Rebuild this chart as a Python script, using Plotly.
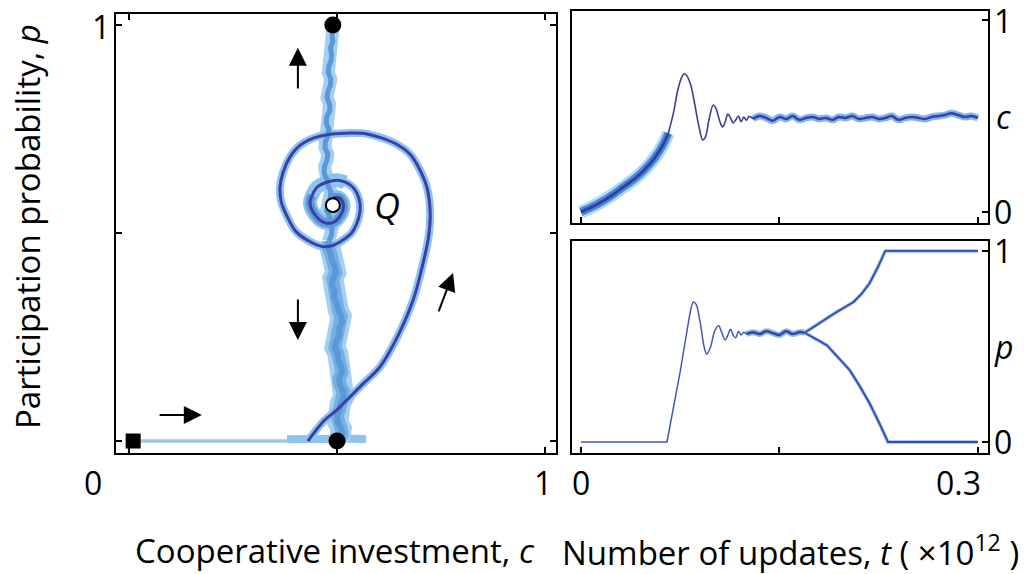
import plotly.graph_objects as go

# ---------------- data: left panel (c, p) phase plane ----------------
start_c = [0.01]
start_p = [0.0]
stable_c = [0.49, 0.50]
stable_p = [1.0, 0.0]
q_c = [0.49]
q_p = [0.567]

flat_c = [0.01, 0.10, 0.20, 0.30, 0.38, 0.43]
flat_p = [0.0, 0.0, 0.0, 0.0, 0.0, 0.0]

blob_c = [0.38, 0.42, 0.47, 0.52, 0.57]
blob_p = [0.004, 0.006, 0.005, 0.006, 0.004]

spiral_c = [0.43, 0.445, 0.47, 0.50, 0.524, 0.56, 0.603, 0.64, 0.683, 0.705, 0.72,
            0.724, 0.716, 0.695, 0.675, 0.64, 0.603, 0.56, 0.524, 0.48, 0.443, 0.41,
            0.387, 0.37, 0.363, 0.366, 0.38, 0.40, 0.428, 0.466, 0.49, 0.514, 0.535,
            0.548, 0.555, 0.555, 0.548, 0.538, 0.52, 0.50, 0.475, 0.452, 0.44, 0.435,
            0.45, 0.47, 0.49, 0.51, 0.515, 0.505, 0.49]
spiral_p = [0.0, 0.02, 0.05, 0.075, 0.099, 0.135, 0.178, 0.24, 0.339, 0.42, 0.49,
            0.548, 0.61, 0.66, 0.69, 0.715, 0.73, 0.74, 0.74, 0.737, 0.728, 0.71,
            0.683, 0.645, 0.61, 0.575, 0.54, 0.505, 0.483, 0.467, 0.47, 0.483, 0.50,
            0.524, 0.55, 0.572, 0.595, 0.61, 0.622, 0.627, 0.622, 0.61, 0.59, 0.572,
            0.54, 0.525, 0.525, 0.545, 0.57, 0.585, 0.585]

vert_p = [0.00, 0.015, 0.03, 0.045, 0.06, 0.075, 0.09, 0.105, 0.12, 0.135,
          0.15, 0.165, 0.18, 0.195, 0.21, 0.225, 0.24, 0.255, 0.27, 0.285,
          0.30, 0.315, 0.33, 0.345, 0.36, 0.375, 0.39, 0.405, 0.42, 0.435,
          0.45, 0.465, 0.48, 0.495, 0.51, 0.525, 0.54, 0.555, 0.57, 0.585,
          0.60, 0.615, 0.63, 0.645, 0.66, 0.675, 0.69, 0.705, 0.72, 0.735,
          0.75, 0.765, 0.78, 0.795, 0.81, 0.825, 0.84, 0.855, 0.87, 0.885,
          0.90, 0.915, 0.93, 0.945, 0.96, 0.975, 0.99]
vert_c = [0.505, 0.512, 0.51, 0.502, 0.50, 0.506, 0.508, 0.516, 0.515, 0.507,
          0.505, 0.512, 0.51, 0.503, 0.502, 0.495, 0.498, 0.506, 0.505, 0.512,
          0.51, 0.503, 0.50, 0.492, 0.495, 0.488, 0.49, 0.497, 0.495, 0.487,
          0.485, 0.479, 0.48, 0.487, 0.488, 0.481, 0.482, 0.475, 0.478, 0.484,
          0.485, 0.478, 0.475, 0.469, 0.47, 0.476, 0.478, 0.471, 0.472, 0.479,
          0.48, 0.474, 0.476, 0.483, 0.482, 0.476, 0.478, 0.484, 0.485, 0.479,
          0.48, 0.486, 0.487, 0.484, 0.49, 0.488, 0.49]

# ---------------- data: top right panel c(t) ----------------
c_early_t = [0.0, 0.008, 0.016, 0.024, 0.032, 0.040, 0.048, 0.056, 0.062, 0.066]
c_early = [0.0, 0.025, 0.055, 0.09, 0.13, 0.17, 0.22, 0.285, 0.35, 0.41]

c_osc_t = [0.066, 0.070, 0.073, 0.076, 0.078, 0.080, 0.083, 0.086, 0.089, 0.092, 0.094,
           0.097, 0.100, 0.102, 0.105, 0.107, 0.109, 0.111, 0.113, 0.115, 0.117, 0.119,
           0.121, 0.123, 0.125, 0.127, 0.130]
c_osc = [0.41, 0.52, 0.63, 0.70, 0.72, 0.71, 0.66, 0.56, 0.45, 0.375, 0.39,
         0.49, 0.557, 0.54, 0.47, 0.443, 0.47, 0.51, 0.49, 0.464, 0.48, 0.50,
         0.47, 0.495, 0.478, 0.498, 0.485]

c_set_t = [0.130, 0.135, 0.140, 0.145, 0.150, 0.155, 0.160, 0.165, 0.170, 0.175, 0.180,
           0.185, 0.190, 0.195, 0.200, 0.205, 0.210, 0.215, 0.220, 0.225, 0.230, 0.235,
           0.240, 0.245, 0.250, 0.255, 0.260, 0.265, 0.270, 0.275, 0.280, 0.285, 0.290,
           0.295, 0.300]
c_set = [0.485, 0.50, 0.49, 0.475, 0.495, 0.485, 0.50, 0.48, 0.49, 0.495, 0.485,
         0.49, 0.48, 0.495, 0.49, 0.50, 0.485, 0.49, 0.495, 0.485, 0.49, 0.50,
         0.48, 0.49, 0.495, 0.49, 0.485, 0.495, 0.50, 0.505, 0.515, 0.505, 0.495,
         0.50, 0.49]

# ---------------- data: bottom right panel p(t) ----------------
p_pre_t = [0.0, 0.065, 0.075, 0.082, 0.085, 0.087, 0.090, 0.093, 0.095, 0.098, 0.101,
           0.104, 0.106, 0.109, 0.111, 0.113, 0.115, 0.117, 0.119, 0.121, 0.123, 0.125]
p_pre = [0.0, 0.0, 0.37, 0.66, 0.733, 0.72, 0.63, 0.50, 0.46, 0.50, 0.58,
         0.61, 0.58, 0.534, 0.56, 0.59, 0.56, 0.545, 0.58, 0.56, 0.575, 0.565]

p_mid_t = [0.125, 0.130, 0.135, 0.140, 0.145, 0.150, 0.155, 0.160, 0.165, 0.169]
p_mid = [0.565, 0.575, 0.565, 0.58, 0.57, 0.56, 0.58, 0.565, 0.575, 0.572]

p_up_t = [0.169, 0.175, 0.180, 0.186, 0.192, 0.198, 0.206, 0.212, 0.218, 0.224, 0.230, 0.300]
p_up = [0.572, 0.60, 0.62, 0.65, 0.675, 0.70, 0.733, 0.775, 0.83, 0.91, 1.0, 1.0]
p_dn_t = [0.169, 0.175, 0.180, 0.186, 0.192, 0.197, 0.203, 0.210, 0.218, 0.225, 0.232, 0.300]
p_dn = [0.572, 0.55, 0.53, 0.505, 0.46, 0.42, 0.377, 0.30, 0.204, 0.105, 0.0, 0.0]

# ---------------- styling ----------------
FONT = "Open Sans"
LIGHT = "#8ec3ec"
MID = "#5a98d8"
DARK = "#3a40a8"
W, H = 1024, 574

fig = go.Figure()


def line(x, y, ax, color, width, shape="linear", opacity=1.0):
    xa = "x" if ax == 1 else f"x{ax}"
    ya = "y" if ax == 1 else f"y{ax}"
    fig.add_trace(go.Scatter(x=x, y=y, xaxis=xa, yaxis=ya, mode="lines",
                             line=dict(color=color, width=width, shape=shape),
                             opacity=opacity, hoverinfo="skip"))


# left panel
line(flat_c, flat_p, 1, "#9cc6ea", 3.5)
line(blob_c, blob_p, 1, LIGHT, 8)
line(vert_c[:33], vert_p[:33], 1, "#a6d0f0", 21)
line(vert_c[32:], vert_p[32:], 1, "#a6d0f0", 13)
line(spiral_c, spiral_p, 1, LIGHT, 8, "spline")
line(spiral_c[38:], spiral_p[38:], 1, LIGHT, 14, "spline")
line(vert_c[:33], vert_p[:33], 1, "#74b0e4", 13)
line(vert_c[:33], vert_p[:33], 1, MID, 6)
line(vert_c[32:], vert_p[32:], 1, MID, 5)
line(spiral_c[42:], spiral_p[42:], 1, MID, 9, "spline")
line(spiral_c, spiral_p, 1, DARK, 3, "spline")

fig.add_trace(go.Scatter(x=start_c, y=start_p, mode="markers", hoverinfo="skip",
                         marker=dict(symbol="square", size=15, color="black")))
fig.add_trace(go.Scatter(x=stable_c, y=stable_p, mode="markers", hoverinfo="skip",
                         marker=dict(symbol="circle", size=17, color="black")))
fig.add_trace(go.Scatter(x=q_c, y=q_p, mode="markers", hoverinfo="skip",
                         marker=dict(symbol="circle", size=14, color="white",
                                     line=dict(color="black", width=2))))

# top right panel
line(c_early_t, c_early, 2, "#a8dcf6", 13, "spline")
line(c_early_t, c_early, 2, "#4f86d4", 8, "spline")
line(c_early_t, c_early, 2, "#2f3fa6", 3, "spline")
line(c_set_t, c_set, 2, "#7fb6ea", 7, "spline")
line(c_osc_t, c_osc, 2, "#3a3f9c", 1.6, "spline")
line(c_set_t, c_set, 2, DARK, 2.5, "spline")

# bottom right panel
line(p_pre_t[:4], p_pre[:4], 3, "#4358b8", 1.5)
line(p_pre_t[3:], p_pre[3:], 3, "#4358b8", 1.5, "spline")
line(p_mid_t, p_mid, 3, "#8ab8ea", 6, "spline")
line(p_mid_t, p_mid, 3, DARK, 2.5, "spline")
line(p_up_t, p_up, 3, "#94b8ea", 3.5)
line(p_dn_t, p_dn, 3, "#94b8ea", 3.5)
line(p_up_t, p_up, 3, "#3b4cb0", 1.8)
line(p_dn_t, p_dn, 3, "#3b4cb0", 1.8)

# ---------------- axes ----------------
frame = dict(showline=True, linecolor="black", linewidth=2, showgrid=False,
             zeroline=False, ticks="inside", ticklen=6, tickwidth=1.5,
             tickcolor="black", showticklabels=False)

fig.update_layout(
    width=W, height=H, margin=dict(l=0, r=0, t=0, b=0),
    paper_bgcolor="white", plot_bgcolor="white", showlegend=False,
    font=dict(family=FONT, color="black", size=32),
    xaxis=dict(frame, domain=[116 / W, 556 / W], range=[-0.03125, 1.0264],
               tickvals=[0, 0.5, 1], mirror="ticks", anchor="y"),
    yaxis=dict(frame, domain=[(H - 453) / H, (H - 14) / H], range=[-0.0288, 1.0264],
               tickvals=[0, 0.5, 1], mirror="ticks", anchor="x"),
    xaxis2=dict(frame, domain=[572 / W, 988 / W], range=[-0.0068, 0.3076],
                tickvals=[0, 0.15, 0.3], mirror=True, anchor="y2"),
    yaxis2=dict(frame, domain=[(H - 223) / H, (H - 11) / H], range=[-0.0573, 1.047],
                tickvals=[0, 1], mirror=True, side="right", anchor="x2"),
    xaxis3=dict(frame, domain=[572 / W, 988 / W], range=[-0.0068, 0.3076],
                tickvals=[0, 0.15, 0.3], mirror=True, anchor="y3"),
    yaxis3=dict(frame, domain=[(H - 453) / H, (H - 241) / H], range=[-0.0576, 1.052],
                tickvals=[0, 1], mirror=True, side="right", anchor="x3"),
)

ann = []


def text(s, x, y, xref="paper", yref="paper", size=32, xanchor="center",
         yanchor="middle", angle=0, xshift=0, yshift=0):
    ann.append(dict(text=s, x=x, y=y, xref=xref, yref=yref, showarrow=False,
                    font=dict(family=FONT, size=size, color="black"),
                    xanchor=xanchor, yanchor=yanchor, textangle=angle,
                    xshift=xshift, yshift=yshift))


lab_y = (H - 482) / H
# left panel tick labels
text("1", 101 / W, 1, yref="y", yshift=-2)
text("0", 93 / W, lab_y)
text("1", 1, lab_y, xref="x", xshift=-2)
# right panel tick labels
rx = 1003 / W
text("1", rx, 1, yref="y2")
text("<i>c</i>", rx, 0.5, yref="y2")
text("0", rx, 0, yref="y2")
text("1", rx, 1, yref="y3")
text("<i>p</i>", rx, 0.5, yref="y3")
text("0", rx, 0, yref="y3")
text("0", 0, lab_y, xref="x3")
text("0.3", 0.3, lab_y, xref="x3", xshift=-19)
# axis titles
tit_y = (H - 550) / H
text("Cooperative investment, <i>c</i>", 335 / W, tit_y, size=33)
text("Number of updates, <i>t</i> ( \u00d710<sup>12</sup> )", 790 / W, tit_y, size=33)
text("Participation probability, <i>p</i>", 28 / W, (H - 227) / H, angle=-90, size=33)
# Q label
text("<i>Q</i>", 0.62, 0.567, xref="x", yref="y", size=36)

# direction arrows
arrows = [((0.406, 0.844), (0.406, 0.945)),
          ((0.406, 0.344), (0.406, 0.243)),
          ((0.07, 0.0625), (0.175, 0.0625)),
          ((0.743, 0.308), (0.779, 0.404))]
for (tx, ty), (hx, hy) in arrows:
    ann.append(dict(x=hx, y=hy, ax=tx, ay=ty, xref="x", yref="y", axref="x",
                    ayref="y", showarrow=True, arrowhead=2, arrowsize=1.8,
                    arrowwidth=2, arrowcolor="black", text="",
                    font=dict(family=FONT, size=12)))

fig.update_layout(annotations=ann)
fig.write_html("out.html", config={"displayModeBar": False},
               post_script="document.body.style.margin='0px';"
                           "document.body.style.overflow='hidden';")
